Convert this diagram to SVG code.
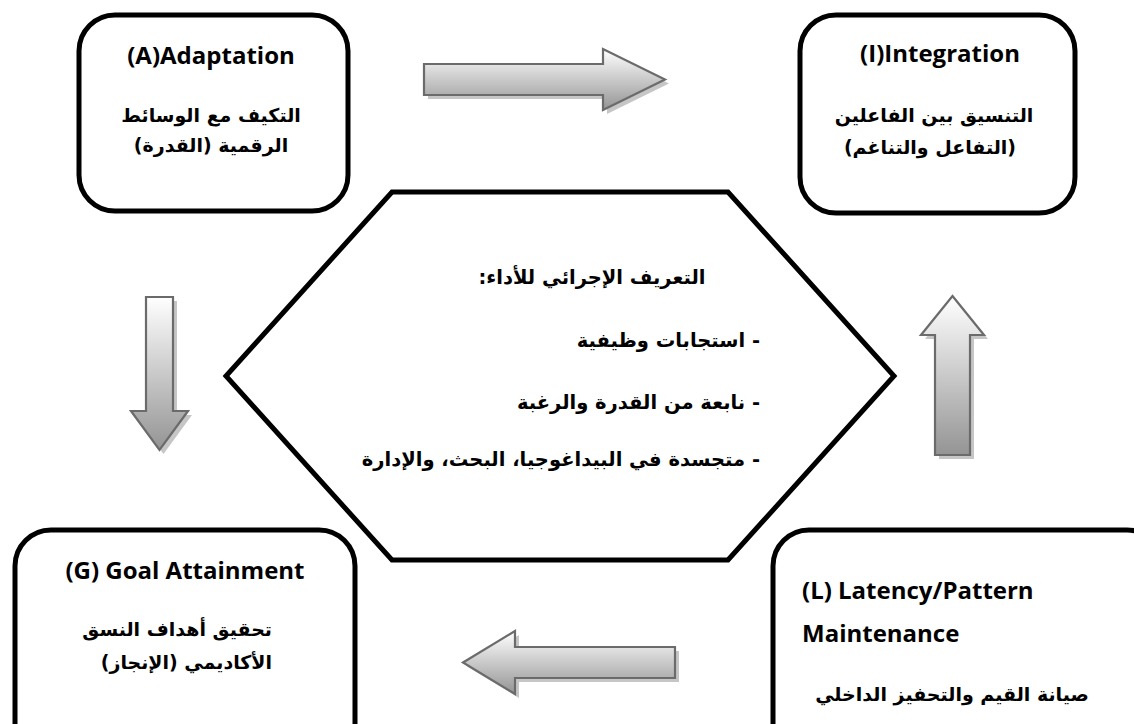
<svg xmlns="http://www.w3.org/2000/svg" width="1134" height="724" viewBox="0 0 1134 724">
  <defs>
    <linearGradient id="arrowFill" x1="0" y1="0" x2="0" y2="1">
      <stop offset="0" stop-color="#ffffff"/>
      <stop offset="1" stop-color="#949494"/>
    </linearGradient>
    <style>
      .box { fill: #ffffff; stroke: #000000; stroke-width: 5; }
      .hex { fill: #ffffff; stroke: #000000; stroke-width: 5; stroke-linejoin: miter; }
      .arrow { fill: url(#arrowFill); stroke: #6b6b6b; stroke-width: 2.2; stroke-linejoin: miter; }
      .shadow { fill: #c6c6c6; stroke: none; }
      .en { font-family: "Open Sans", "Liberation Sans", sans-serif; font-weight: 700; font-size: 24px; fill: #000000; }
      .ar { font-family: "DejaVu Sans", sans-serif; font-weight: 700; font-size: 19px; fill: #000000; }
      .def { font-size: 19.5px; }
    </style>
  </defs>
  <rect width="1134" height="724" fill="#ffffff"/>

  <!-- central hexagon: operational definition -->
  <g id="node-definition">
    <polygon class="hex" points="392,192 728,192 894,376 728,560 392,560 226,376"/>
    <text class="ar def" x="592" y="284" text-anchor="middle" direction="rtl">التعريف الإجرائي للأداء:</text>
    <text class="ar def" x="760" y="347" text-anchor="start" direction="rtl">- استجابات وظيفية</text>
    <text class="ar def" x="760" y="409" text-anchor="start" direction="rtl">- نابعة من القدرة والرغبة</text>
    <text class="ar def" x="760" y="466" text-anchor="start" direction="rtl">- متجسدة في البيداغوجيا، البحث، والإدارة</text>
  </g>

  <!-- A: Adaptation -->
  <g id="node-adaptation">
    <rect class="box" x="79" y="15" width="269" height="196" rx="36" ry="36"/>
    <text class="en" x="211" y="64" text-anchor="middle">(A)Adaptation</text>
    <text class="ar" x="211" y="122" text-anchor="middle" direction="rtl">التكيف مع الوسائط</text>
    <text class="ar" x="211" y="152" text-anchor="middle" direction="rtl">الرقمية (القدرة)</text>
  </g>

  <!-- I: Integration -->
  <g id="node-integration">
    <rect class="box" x="800" y="15" width="275" height="198" rx="36" ry="36"/>
    <text class="en" x="940" y="62" text-anchor="middle">(I)Integration</text>
    <text class="ar" x="934" y="122" text-anchor="middle" direction="rtl">التنسيق بين الفاعلين</text>
    <text class="ar" x="930" y="154" text-anchor="middle" direction="rtl">(التفاعل والتناغم)</text>
  </g>

  <!-- G: Goal Attainment -->
  <g id="node-goal">
    <rect class="box" x="15" y="530" width="340" height="230" rx="36" ry="36"/>
    <text class="en" x="185" y="579" text-anchor="middle">(G) Goal Attainment</text>
    <text class="ar" x="272" y="636" text-anchor="start" direction="rtl">تحقيق أهداف النسق</text>
    <text class="ar" x="272" y="669" text-anchor="start" direction="rtl">الأكاديمي (الإنجاز)</text>
  </g>

  <!-- L: Latency / Pattern Maintenance -->
  <g id="node-latency">
    <rect class="box" x="773" y="530" width="390" height="230" rx="36" ry="36"/>
    <text class="en" x="802" y="599">(L) Latency/Pattern</text>
    <text class="en" x="802" y="642">Maintenance</text>
    <text class="ar" x="952" y="701" text-anchor="middle" direction="rtl">صيانة القيم والتحفيز الداخلي</text>
  </g>

  <!-- block arrows between the four functions -->
  <g id="connectors">
    <g id="arrow-a-to-i">
      <polygon class="shadow" transform="translate(4,4)" points="424,64 603,64 603,49 665,79.5 603,110 603,95 424,95"/>
      <polygon class="arrow" points="424,64 603,64 603,49 665,79.5 603,110 603,95 424,95"/>
    </g>
    <g id="arrow-a-to-g">
      <polygon class="shadow" transform="translate(4,4)" points="146,297 173,297 173,411 188,411 159.5,450 131,411 146,411"/>
      <polygon class="arrow" points="146,297 173,297 173,411 188,411 159.5,450 131,411 146,411"/>
    </g>
    <g id="arrow-l-to-i">
      <polygon class="shadow" transform="translate(4,4)" points="952.5,296 984,335 970,335 970,455 935,455 935,335 921,335"/>
      <polygon class="arrow" points="952.5,296 984,335 970,335 970,455 935,455 935,335 921,335"/>
    </g>
    <g id="arrow-l-to-g">
      <polygon class="shadow" transform="translate(4,4)" points="463,662.5 515,631 515,647 675,647 675,678 515,678 515,694"/>
      <polygon class="arrow" points="463,662.5 515,631 515,647 675,647 675,678 515,678 515,694"/>
    </g>
  </g>
</svg>
